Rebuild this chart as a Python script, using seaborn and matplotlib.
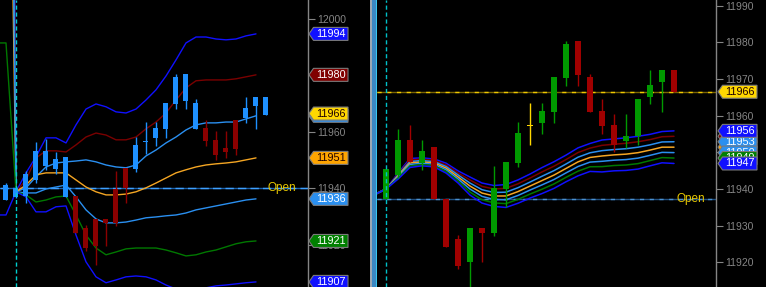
import numpy as np
import pandas as pd
import matplotlib
matplotlib.use("Agg")
import matplotlib.pyplot as plt
import seaborn as sns
from matplotlib.patches import Polygon, Rectangle

sns.set_theme(style="dark")
plt.rcParams['font.family'] = ['Liberation Sans', 'DejaVu Sans']

# ---------------- data: left panel ----------------
left_band_x = list(range(-1, 26))
left_blue_up = [12600, 12600, 11938.8, 11945.5, 11951.2, 11957.9, 11957.9, 11956.1, 11962.5, 11968.1, 11969.9,
                11968.9, 11967.1, 11966.7, 11968.1, 11971.3, 11974.9, 11979.8, 11985.5, 11991.5, 11993.6,
                11993.6, 11992.9, 11992.6, 11992.9, 11994.0, 11994.7]
left_red_up = [12450, 12450, 11938.8, 11943.0, 11950.8, 11953.3, 11953.3, 11952.9, 11955.4, 11958.2, 11959.6,
               11958.9, 11957.2, 11957.2, 11958.2, 11961.1, 11963.5, 11966.7, 11971.3, 11975.6, 11978.1,
               11978.4, 11978.4, 11978.4, 11978.8, 11979.5, 11980.2]
left_lb_up = [12300, 12300, 11938.8, 11940.2, 11944.1, 11947.6, 11949.0, 11949.4, 11949.7, 11950.1, 11949.4,
              11948.3, 11947.6, 11947.3, 11948.3, 11951.5, 11953.6, 11956.1, 11958.2, 11960.7, 11962.5,
              11963.2, 11963.2, 11963.5, 11963.5, 11964.6, 11965.7]
left_mid = [12170, 12170, 11938.8, 11941.2, 11944.8, 11945.5, 11945.5, 11945.5, 11943.0, 11940.5, 11938.8,
            11937.7, 11937.7, 11938.0, 11938.8, 11940.2, 11941.9, 11943.7, 11945.5, 11946.6, 11947.6,
            11948.3, 11948.7, 11949.0, 11949.4, 11950.1, 11950.8]
left_lb_low = [12250, 12250, 11938.8, 11938.4, 11938.4, 11939.8, 11940.5, 11941.2, 11937.0, 11932.4, 11929.2,
               11927.8, 11927.8, 11928.1, 11928.8, 11929.6, 11929.9, 11930.3, 11930.6, 11931.3, 11932.4,
               11933.1, 11933.8, 11934.5, 11935.2, 11935.9, 11936.3]
left_green_low = [11991.5, 11991.5, 11938.8, 11937.7, 11935.2, 11935.9, 11937.0, 11937.3, 11930.6, 11923.5,
                  11918.9, 11916.5, 11917.5, 11918.6, 11918.9, 11918.9, 11918.9, 11918.2, 11917.2, 11916.1,
                  11916.5, 11917.5, 11918.2, 11919.3, 11920.4, 11921.1, 11921.4]
left_blue_low = [11930.6, 11930.6, 11938.8, 11937.0, 11931.7, 11931.7, 11933.5, 11933.8, 11923.5, 11914.0,
                 11908.7, 11906.6, 11907.6, 11908.7, 11909.0, 11908.7, 11907.6, 11905.8, 11904.4, 11903.7,
                 11904.1, 11904.8, 11905.5, 11905.8, 11906.2, 11906.6, 11906.9]

left_open = [11935.9, 11937.0, 11937.3, 11943.0, 11948.0, 11946.9, 11937.0, 11937.3, 11926.0, 11929.2, 11929.2,
             11939.8, 11947.3, 11946.9, 11956.6, 11957.9, 11961.1, 11969.9, 11971.0, 11961.1, 11961.4,
             11957.2, 11954.3, 11964.2, 11964.9, 11969.2, 11966.0]
left_high = [11941.9, 11940.5, 11946.2, 11956.5, 11957.5, 11952.9, 11951.2, 11937.3, 11927.1, 11929.2, 11929.2,
             11946.2, 11947.3, 11958.2, 11963.5, 11963.5, 11970.3, 11980.5, 11980.5, 11971.7, 11964.2,
             11960.4, 11960.4, 11964.2, 11972.4, 11972.4, 11972.4]
left_low = [11935.9, 11936.5, 11934.8, 11941.9, 11946.6, 11945.1, 11937.0, 11924.2, 11917.9, 11912.9, 11919.6,
            11926.7, 11934.8, 11945.8, 11952.2, 11955.0, 11957.9, 11968.1, 11968.1, 11961.1, 11955.0,
            11950.1, 11950.8, 11951.9, 11963.2, 11961.1, 11966.0]
left_close = [11941.2, 11940.2, 11945.1, 11953.3, 11953.3, 11950.4, 11951.2, 11924.2, 11918.9, 11919.6, 11927.8,
              11927.8, 11940.2, 11955.4, 11956.9, 11961.4, 11970.3, 11979.5, 11980.5, 11970.3, 11956.8,
              11951.9, 11952.9, 11954.0, 11968.5, 11972.4, 11972.4]
left_open_level = 11940.2
left_ticks = [11920, 11940, 11960, 11980, 12000]
left_tag_values = [11994.7, 11980.2, 11965.7, 11966.5, 11950.8, 11936.3, 11921.4, 11906.9]
left_tag_labels = ['11994', '11980', '11966', '11966', '11951', '11936', '11921', '11907']

# ---------------- data: right panel ----------------
right_band_x = list(range(-1, 25))
right_mid = [11938.4, 11940.0, 11943.5, 11947.1, 11947.4, 11947.1, 11945.7, 11943.3, 11940.8, 11938.9, 11938.1,
             11938.1, 11939.3, 11940.8, 11942.3, 11943.8, 11945.6, 11947.4, 11948.6, 11949.0, 11949.3,
             11949.5, 11949.9, 11950.6, 11951.4, 11951.4]
right_dev = [0, 0, 0.27, 0.41, 0.36, 0.36, 0.45, 0.55, 0.82, 0.91, 0.95, 1.04, 1.06, 1.09, 1.18, 1.21, 1.21,
             1.27, 1.27, 1.45, 1.45, 1.48, 1.49, 1.43, 1.42, 1.48]
right_open = [11937.3, 11943.8, 11953.4, 11947.1, 11951.4, 11937.3, 11926.4, 11920.1, 11929.4, 11928.0, 11940.0,
              11947.1, 11957.4, 11958.0, 11961.0, 11970.2, 11980.3, 11970.5, 11961.3, 11957.4, 11953.1,
              11954.4, 11965.1, 11969.2, 11972.4]
right_high = [11945.4, 11956.3, 11957.4, 11953.4, 11951.4, 11937.3, 11927.5, 11929.4, 11929.4, 11946.3, 11947.4,
              11958.3, 11963.4, 11963.4, 11970.5, 11980.3, 11980.3, 11971.3, 11964.5, 11960.4, 11960.4,
              11964.5, 11972.4, 11972.4, 11972.4]
right_low = [11937.3, 11943.0, 11947.4, 11945.2, 11937.3, 11924.2, 11918.2, 11912.0, 11920.1, 11927.2, 11935.1,
             11946.0, 11952.0, 11955.0, 11958.0, 11968.1, 11968.1, 11961.0, 11955.0, 11950.1, 11951.2,
             11952.0, 11963.2, 11961.0, 11966.4]
right_close = [11945.4, 11953.4, 11947.4, 11950.4, 11937.3, 11924.2, 11919.0, 11929.4, 11928.0, 11940.3, 11947.4,
               11955.3, 11957.4, 11961.3, 11970.5, 11979.5, 11971.1, 11961.0, 11957.2, 11952.0, 11954.4,
               11964.5, 11968.3, 11972.4, 11966.4]
right_open_level = 11937.3
right_price_level = 11966.5
right_ticks = [11920, 11930, 11940, 11950, 11960, 11970, 11980, 11990]
right_tag_labels = ['11954', '11951', '11953', '11950', '11949', '11956', '11947']

# ---------------- figure ----------------
W, H = 766, 287
fig = plt.figure(figsize=(W / 100, H / 100), dpi=100, facecolor='black')
ax1 = fig.add_axes([0, 0, 308 / W, 1])
ax2 = fig.add_axes([377 / W, 0, (716 - 377) / W, 1])

BLUE = '#1010ff'
DRED = '#7a0000'
LBLUE = '#2a8ff0'
ORANGE = '#f5a623'
GREEN = '#007800'
GRAY = '#858585'

for ax in (ax1, ax2):
    ax.set_facecolor('black')
    ax.grid(False)
    for s in ('top', 'left', 'bottom'):
        ax.spines[s].set_visible(False)
    ax.spines['right'].set_color(GRAY)
    ax.spines['right'].set_linewidth(1.0)
    ax.yaxis.tick_right()
    ax.set_xticks([])
    ax.tick_params(axis='y', direction='out', length=5, width=0.8, color=GRAY,
                   labelcolor=GRAY, labelsize=7.5, pad=1.5, right=True, left=False)

ax1.set_xlim(-0.6, 30.2)
ax1.set_ylim(11905.1, 12006.7)
ax2.set_xlim(-0.75, 27.5)
ax2.set_ylim(11913.3, 11991.5)
ax1.set_yticks(left_ticks, labels=[str(t) for t in left_ticks])
ax2.set_yticks(right_ticks, labels=[str(t) for t in right_ticks])

band_order = ['b3u', 'b2u', 'b1u', 'mid', 'b1l', 'b2l', 'b3l']
band_pal = {'b3u': BLUE, 'b2u': DRED, 'b1u': LBLUE, 'mid': ORANGE, 'b1l': LBLUE, 'b2l': GREEN, 'b3l': BLUE}

# left bands
left_bands = {'b3u': left_blue_up, 'b2u': left_red_up, 'b1u': left_lb_up, 'mid': left_mid,
              'b1l': left_lb_low, 'b2l': left_green_low, 'b3l': left_blue_low}
df_l = pd.DataFrame([{'x': x, 'v': v, 'band': k} for k, vals in left_bands.items()
                     for x, v in zip(left_band_x, vals)])
sns.lineplot(data=df_l, x='x', y='v', hue='band', hue_order=band_order, palette=band_pal,
             estimator=None, sort=False, legend=False, lw=1.0, ax=ax1, zorder=2)

# right bands
rm = np.array(right_mid)
rd = np.array(right_dev)
right_bands = {'b3u': rm + 3 * rd, 'b2u': rm + 2 * rd, 'b1u': rm + rd, 'mid': rm,
               'b1l': rm - rd, 'b2l': rm - 2 * rd, 'b3l': rm - 3 * rd}
df_r = pd.DataFrame([{'x': x, 'v': v, 'band': k} for k, vals in right_bands.items()
                     for x, v in zip(right_band_x, vals)])
sns.lineplot(data=df_r, x='x', y='v', hue='band', hue_order=band_order, palette=band_pal,
             estimator=None, sort=False, legend=False, lw=1.1, ax=ax2, zorder=2)
for ax in (ax1, ax2):
    ax.set_xlabel('')
    ax.set_ylabel('')


def candles(ax, o, h, l, c, up, down, doji, width, minh):
    for i, (oi, hi, li, ci) in enumerate(zip(o, h, l, c)):
        if ci > oi:
            col = up
        elif ci < oi:
            col = down
        else:
            col = doji
        ax.vlines(i, li, hi, color=col, lw=1.0, zorder=3)
        if ci == oi:
            ax.bar(i, minh, width, bottom=oi - minh / 2, color=col, lw=0, zorder=3)
        else:
            ax.bar(i, abs(ci - oi), width, bottom=min(oi, ci), color=col, lw=0, zorder=3)


candles(ax1, left_open, left_high, left_low, left_close, '#1e90ff', '#8b0000', '#ffd700', 0.5, 0.35)
candles(ax2, right_open, right_high, right_low, right_close, '#009a00', '#a00000', '#ffd700', 0.42, 0.35)

# horizontal reference lines
ax1.axhline(left_open_level, color='#1a5fa8', lw=1.0, zorder=1)
ax1.axhline(left_open_level, color='#3ea0ff', lw=1.0, ls=(0, (6, 3)), zorder=1)
ax2.axhline(right_open_level, color='#1f4f80', lw=1.0, zorder=1)
ax2.axhline(right_open_level, color='#4a90d0', lw=1.0, ls=(0, (3, 4)), zorder=1)
ax2.axhline(right_price_level, color='#7a6400', lw=1.0, zorder=1)
ax2.axhline(right_price_level, color='#f0c800', lw=1.0, ls=(0, (3, 4)), zorder=1)

ax1.text(26.2, left_open_level, 'Open', color='#e8c800', fontsize=8.5, va='center', ha='left', zorder=6)
ax2.text(24.17, right_open_level, 'Open', color='#e8c800', fontsize=8.5, va='center', ha='left', zorder=6)

# session start markers
ax1.axvline(1, color='#00d0d0', lw=1.0, ls=(0, (3, 2)), zorder=5)
ax2.axvline(0, color='#00c0c8', lw=1.0, ls=(0, (3, 2)), zorder=5)

# splitter between panes
fig.add_artist(Rectangle((370 / W, 0), 2 / W, 1, transform=fig.transFigure, facecolor='#9aa8b4', lw=0))
fig.add_artist(Rectangle((372 / W, 0), 4 / W, 1, transform=fig.transFigure, facecolor='#3a88c4', lw=0))
fig.add_artist(Rectangle((376 / W, 0), 1 / W, 1, transform=fig.transFigure, facecolor='#38c8f0', lw=0))

zc = [20]


def tag(ax, value, text, face, tc, x0):
    yd = ax.transData.transform((0, value))[1]
    hh = 6.5
    pts = [(x0, yd), (x0 + 4.5, yd + hh), (x0 + 39, yd + hh), (x0 + 39, yd - hh), (x0 + 4.5, yd - hh)]
    fig.add_artist(Polygon([(px / W, py / H) for px, py in pts], closed=True, transform=fig.transFigure,
                           facecolor=face, edgecolor='#7a7a7a', lw=0.8, zorder=zc[0]))
    fig.text((x0 + 22) / W, yd / H, text, color=tc, fontsize=7.8, ha='center', va='center', zorder=zc[0] + 1)
    zc[0] += 2


left_faces = [BLUE, '#800000', LBLUE, '#ffd700', '#ffa500', LBLUE, '#008000', BLUE]
left_tcs = ['white', 'white', 'white', '#200000', '#200000', 'white', 'white', 'white']
for v, t, f, tc in zip(left_tag_values, left_tag_labels, left_faces, left_tcs):
    tag(ax1, v, t, f, tc, 309)

tag(ax2, right_price_level, '11966', '#ffd700', '#200000', 718)
r_last = {k: v[-1] for k, v in right_bands.items()}
r_order = ['b2u', 'mid', 'b1u', 'b1l', 'b2l', 'b3u', 'b3l']
r_faces = {'b3u': BLUE, 'b2u': '#800000', 'b1u': LBLUE, 'mid': '#ffa500', 'b1l': LBLUE, 'b2l': '#008000', 'b3l': BLUE}
for k, t in zip(r_order, right_tag_labels):
    tag(ax2, r_last[k], t, r_faces[k], '#200000' if k == 'mid' else 'white', 718)

fig.savefig('out.png', dpi=100, facecolor='black')
